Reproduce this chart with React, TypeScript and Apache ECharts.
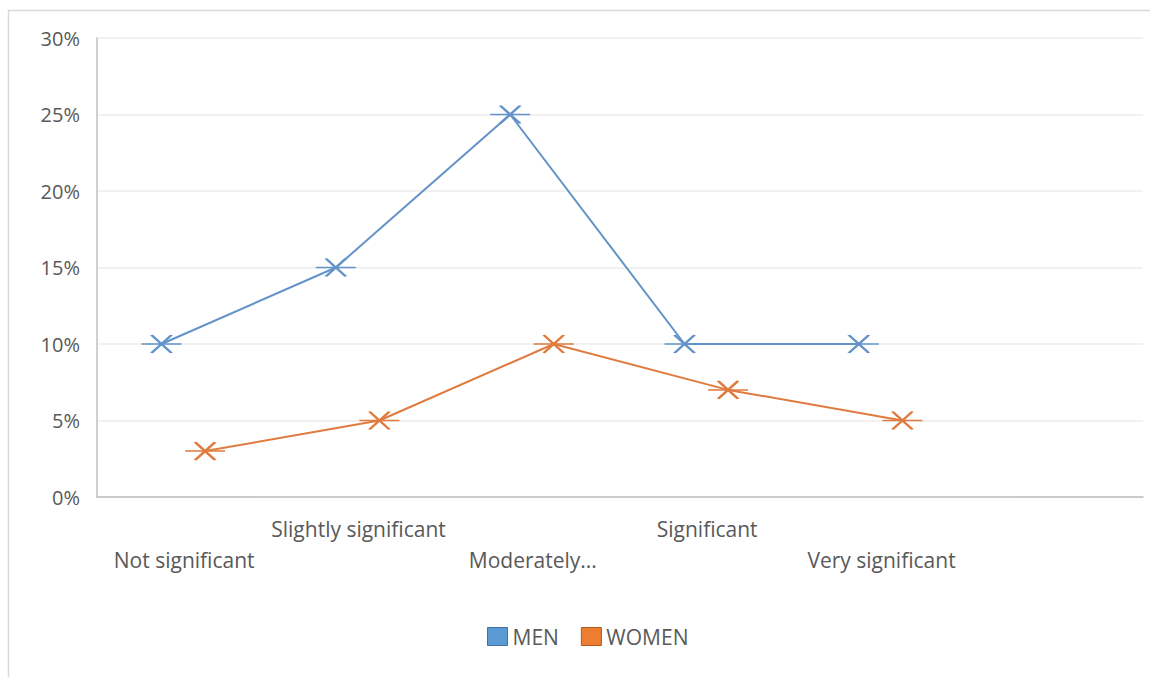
import React, { useEffect, useRef } from "react";
import * as echarts from "echarts";

// Category labels along the bottom; the sixth slot is left empty.
const categories = [
  "Not significant",
  "Slightly significant",
  "Moderately...",
  "Significant",
  "Very significant",
  "",
];
const menValues = [10, 15, 25, 10, 10];
const womenValues = [3, 5, 10, 7, 5];
const yTicks = [0, 5, 10, 15, 20, 25, 30];

const MEN_LINE = "#6393C8";
const WOMEN_LINE = "#DF7B3E";
const FONT = "'Open Sans', 'Noto Sans', sans-serif";
const LABEL_SIZE = 21;
const TICK_SIZE = 20;

// Asterisk-style marker: an X crossed by a horizontal bar.
const STAR = "path://M-20,0L20,0M-10,-9L10,9M-10,9L10,-9";

// Each series sits slightly left/right of its category centre.
const toPoints = (vals: number[], shift: number) =>
  vals.map((v, i) => [i + 0.5 + shift, v]);

export default function App() {
  const ref = useRef<HTMLDivElement>(null);

  useEffect(() => {
    if (!ref.current) return;
    const chart = echarts.init(ref.current, undefined, { renderer: "svg" });
    chart.setOption({
      animation: false,
      backgroundColor: "#fff",
      textStyle: { fontFamily: FONT },
      graphic: [
        {
          type: "rect",
          shape: { x: 8.5, y: 10.5, width: 1200, height: 700 },
          style: { fill: "none", stroke: "#d9d9d9", lineWidth: 1.5 },
          silent: true,
        },
      ],
      grid: { left: 97, right: 7, top: 38, bottom: 180, containLabel: false },
      legend: {
        left: 482,
        top: 621,
        itemWidth: 20,
        itemHeight: 18,
        itemGap: 22,
        textStyle: { color: "#595959", fontSize: LABEL_SIZE, fontFamily: FONT },
        data: [
          { name: "MEN", icon: "rect", itemStyle: { color: "#5B9BD5", borderColor: "#41719C", borderWidth: 1 } },
          { name: "WOMEN", icon: "rect", itemStyle: { color: "#ED7D31", borderColor: "#AE5A21", borderWidth: 1 } },
        ],
      },
      xAxis: [
        {
          type: "category",
          data: categories,
          boundaryGap: true,
          position: "bottom",
          axisLine: { show: true, lineStyle: { color: "#bfbfbf", width: 1.5 } },
          axisTick: { show: false },
          splitLine: { show: false },
          axisLabel: {
            interval: 0,
            margin: 16,
            color: "#595959",
            fontSize: LABEL_SIZE,
            lineHeight: 31,
            fontFamily: FONT,
            verticalAlign: "top",
            formatter: (v: string, i: number) => (i % 2 === 0 ? "\n" + v : v),
          },
        },
        {
          type: "value",
          min: 0,
          max: categories.length,
          show: false,
        },
      ],
      yAxis: {
        type: "value",
        min: yTicks[0],
        max: yTicks[yTicks.length - 1],
        interval: 5,
        axisLine: { show: true, lineStyle: { color: "#bfbfbf", width: 1.5 } },
        axisTick: { show: false },
        splitLine: { lineStyle: { color: "#ececec", width: 1.5 } },
        axisLabel: {
          margin: 17,
          color: "#595959",
          fontSize: TICK_SIZE,
          fontFamily: FONT,
          formatter: "{value}%",
        },
      },
      series: [
        {
          name: "MEN",
          type: "line",
          xAxisIndex: 1,
          data: toPoints(menValues, -0.13),
          symbol: STAR,
          symbolSize: [40, 18],
          itemStyle: { color: "rgba(0,0,0,0)", borderColor: MEN_LINE, borderWidth: 2.2 },
          lineStyle: { color: MEN_LINE, width: 2 },
        },
        {
          name: "WOMEN",
          type: "line",
          xAxisIndex: 1,
          data: toPoints(womenValues, 0.12),
          symbol: STAR,
          symbolSize: [40, 18],
          itemStyle: { color: "rgba(0,0,0,0)", borderColor: WOMEN_LINE, borderWidth: 2.2 },
          lineStyle: { color: WOMEN_LINE, width: 2 },
        },
      ],
    });
    return () => chart.dispose();
  }, []);

  return (
    <div
      ref={ref}
      style={{ position: "absolute", left: 0, top: 0, width: 1150, height: 677 }}
    />
  );
}
